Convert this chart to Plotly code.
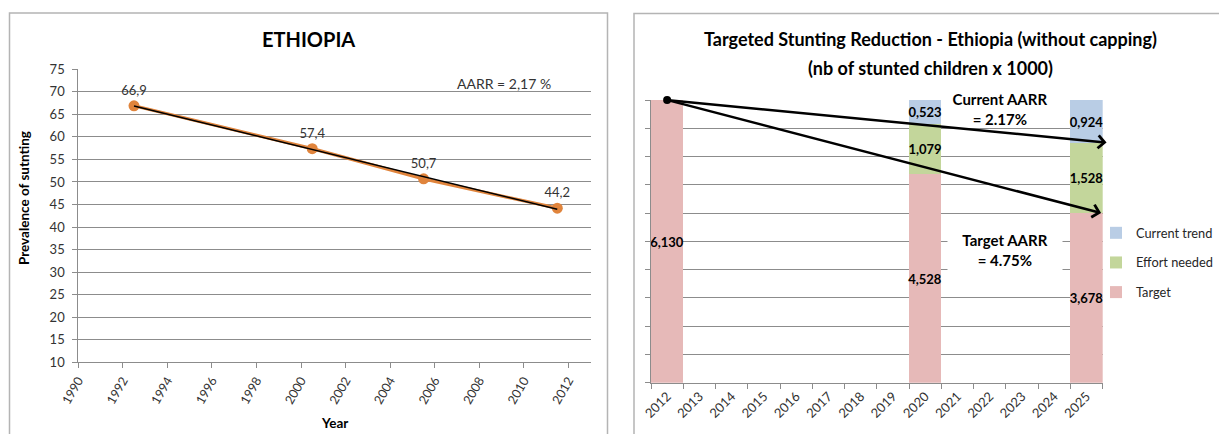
import numpy as np
import plotly.graph_objects as go

# ---------------- data ----------------
# Left chart: prevalence of stunting, Ethiopia
survey_years = [1992.5, 2000.5, 2005.5, 2011.5]
prevalence = [66.9, 57.4, 50.7, 44.2]
aarr_text = "AARR = 2,17 %"

# Right chart: stunted children (x 1000)
axis_years = ["2012", "2013", "2014", "2015", "2016", "2017", "2018",
              "2019", "2020", "2021", "2022", "2023", "2024", "2025"]
bar_years = ["2012", "2020", "2025"]
target = [6130, 4528, 3678]
effort = [None, 1079, 1528]
current = [None, 523, 924]

GRID = "#8C8C8C"
TXT = "#333333"
LEFT_FONT = "Lato, 'Open Sans', sans-serif"
RIGHT_FONT = "'Liberation Sans Narrow', 'Arial Narrow', Lato, sans-serif"


def fmt_thousands(v):
    return None if v is None else f"{v / 1000:.3f}".replace(".", ",")


fig = go.Figure()

# ---- left chart ----
fig.add_trace(go.Scatter(
    x=survey_years, y=prevalence, mode="lines+markers+text",
    line=dict(color="#E0843C", width=3.2),
    marker=dict(color="#E0843C", size=11),
    text=[f"{v:.1f}".replace(".", ",") for v in prevalence],
    textposition="top center",
    textfont=dict(family=LEFT_FONT, size=13, color=TXT),
    showlegend=False, xaxis="x", yaxis="y", cliponaxis=False,
))
slope, intercept = np.polyfit(survey_years, prevalence, 1)
trend_x = [survey_years[0], survey_years[-1]]
fig.add_trace(go.Scatter(
    x=trend_x, y=[slope * t + intercept for t in trend_x], mode="lines",
    line=dict(color="black", width=1.5), showlegend=False,
    xaxis="x", yaxis="y", hoverinfo="skip",
))

# ---- right chart ----
fig.add_trace(go.Bar(
    name="Target", x=bar_years, y=target, marker_color="#E6B9B8",
    text=[fmt_thousands(v) for v in target], legendgroup="t", legendrank=3,
    xaxis="x2", yaxis="y2"))
fig.add_trace(go.Bar(
    name="Effort needed", x=bar_years, y=effort, marker_color="#C3D69B",
    text=[fmt_thousands(v) for v in effort], legendgroup="e", legendrank=2,
    xaxis="x2", yaxis="y2"))
fig.add_trace(go.Bar(
    name="Current trend", x=bar_years, y=current, marker_color="#B9CDE5",
    text=[fmt_thousands(v) for v in current], legendgroup="c", legendrank=1,
    xaxis="x2", yaxis="y2"))
fig.update_traces(
    selector=dict(type="bar"), textposition="inside", insidetextanchor="middle",
    textangle=0, constraintext="none", marker_line_width=0, cliponaxis=False,
    textfont=dict(family=RIGHT_FONT, size=13, color="black", weight="bold"))

fig.add_trace(go.Scatter(
    x=[bar_years[0]], y=[target[0]], mode="markers",
    marker=dict(color="black", size=8), showlegend=False,
    xaxis="x2", yaxis="y2", cliponaxis=False, hoverinfo="skip"))


def note(text, px, py, size, color="black", **kw):
    return dict(text=text, x=px / 1219, y=1 - py / 434, xref="paper", yref="paper",
                xanchor="center", yanchor="middle", showarrow=False,
                font=dict(family=kw.pop("family", RIGHT_FONT), size=size, color=color), **kw)


annotations = [
    note("<b>ETHIOPIA</b>", 308, 38.5, 20, family=LEFT_FONT),
    note(aarr_text, 503.5, 83, 14, color=TXT, family=LEFT_FONT),
    note("<b>Prevalence of sutnting</b>", 24, 198, 13.5, family=LEFT_FONT, textangle=-90),
    note("<b>Year</b>", 334, 423, 13.5, family=LEFT_FONT),
    note("<b>Targeted Stunting Reduction - Ethiopia (without capping)</b>", 930, 39.5, 18),
    note("<b>(nb of stunted children x 1000)</b>", 930, 68, 18),
    note("<b>Current AARR<br>= 2.17%</b>", 999.5, 108.5, 15, bgcolor="white",
         width=110, height=34, borderpad=0),
    note("<b>Target AARR<br>= 4.75%</b>", 1005, 250, 15, bgcolor="white",
         width=114, height=50, borderpad=0),
    # arrows from the 2012 total to the 2025 outcomes
    dict(text="", x=13.62, y=target[2] + effort[2], xref="x2", yref="y2",
         ax=0, ay=target[0], axref="x2", ayref="y2", showarrow=True,
         arrowhead=4, arrowsize=1, arrowwidth=2.5, arrowcolor="black", standoff=0),
    dict(text="", x=13.45, y=target[2], xref="x2", yref="y2",
         ax=0, ay=target[0], axref="x2", ayref="y2", showarrow=True,
         arrowhead=4, arrowsize=1, arrowwidth=2.5, arrowcolor="black", standoff=0),
]

shapes = [
    dict(type="rect", xref="paper", yref="paper", x0=9.5 / 1219, x1=607.5 / 1219,
         y0=-0.1, y1=1 - 13 / 434, line=dict(color="#B4B4B4", width=1.5), layer="below"),
    dict(type="rect", xref="paper", yref="paper", x0=634 / 1219, x1=1.1,
         y0=-0.1, y1=1 - 13.5 / 434, line=dict(color="#B4B4B4", width=1.5), layer="below"),
]

fig.update_layout(
    template="none",
    width=1219, height=434, margin=dict(l=0, r=0, t=0, b=0, autoexpand=False),
    paper_bgcolor="white", plot_bgcolor="white",
    barmode="stack", bargap=0,
    showlegend=True,
    legend=dict(x=1096 / 1219, y=1 - 218 / 434, xanchor="left", yanchor="top",
                traceorder="grouped", tracegroupgap=10,
                font=dict(family=RIGHT_FONT, size=12.8, color="#262626"),
                bgcolor="rgba(0,0,0,0)"),
    annotations=annotations, shapes=shapes,
    xaxis=dict(domain=[78.3 / 1219, 590.7 / 1219], range=[1990, 2013], automargin=False,
               tick0=1990, dtick=2, tickangle=-60, showgrid=False,
               showline=True, linecolor=GRID, linewidth=1,
               ticks="outside", ticklen=5, tickcolor=GRID, zeroline=False,
               tickfont=dict(family=LEFT_FONT, size=12.5, color=TXT)),
    yaxis=dict(domain=[1 - 362.3 / 434, 1 - 69.3 / 434], range=[10, 75], automargin=False,
               tick0=10, dtick=5, showgrid=True, gridcolor=GRID, gridwidth=1,
               showline=True, linecolor=GRID, linewidth=1,
               ticks="outside", ticklen=5, tickcolor=GRID, zeroline=False,
               ticklabelstandoff=5,
               tickfont=dict(family=LEFT_FONT, size=13, color=TXT)),
    xaxis2=dict(domain=[651 / 1219, 1102.7 / 1219], type="category", automargin=False,
                categoryorder="array", categoryarray=axis_years,
                tickvals=axis_years, range=[-0.5, 13.5], anchor="y2",
                tickson="boundaries", tickangle=-45, showgrid=False,
                showline=True, linecolor=GRID, linewidth=1,
                ticks="outside", ticklen=5, tickcolor=GRID,
                tickfont=dict(family=RIGHT_FONT, size=13, color=TXT)),
    yaxis2=dict(domain=[1 - 382.7 / 434, 1 - 100 / 434], range=[0, 6130], automargin=False,
                tick0=0, dtick=613, anchor="x2", showticklabels=False,
                showgrid=True, gridcolor=GRID, gridwidth=1,
                showline=True, linecolor=GRID, linewidth=1,
                ticks="outside", ticklen=5, tickcolor=GRID, zeroline=False),
)

fig.write_html("out.html", config={"displayModeBar": False},
               post_script="document.body.style.margin='0px';document.body.style.overflow='hidden';")
